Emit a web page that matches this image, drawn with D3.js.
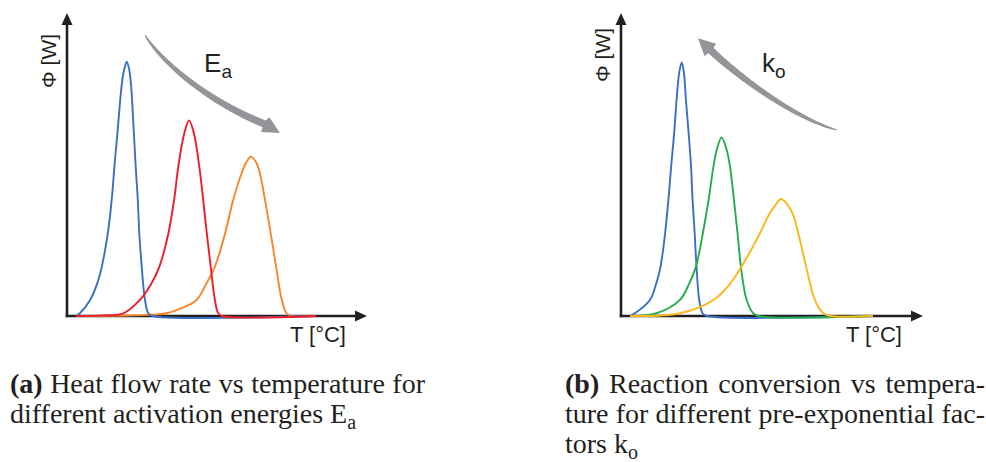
<!DOCTYPE html>
<html>
<head>
<meta charset="utf-8">
<script src="https://cdn.jsdelivr.net/npm/d3@7"></script>
<style>
  html, body { margin: 0; padding: 0; background: #fff; }
  svg { display: block; }
</style>
</head>
<body>
<svg id="fig" width="986" height="462"></svg>
<script>
// ---- Panel (a): heat flow Φ vs temperature T, one curve per activation energy ----
// each entry is [T, Φ] in relative units (0–100 along each axis)
const heatFlowLowEa = [[3,0],[4.3,0.9],[7.7,5.3],[10,10.5],[11.6,16.3],[13.6,27.3],[14.9,38.3],[15.8,49.3],[16.8,60.3],[18.3,76.8],[19.1,81.5],[19.9,83.9],[20.7,81.5],[21.3,76.8],[22.3,60.3],[22.9,49.3],[23.6,38.3],[24.1,27.3],[24.9,16.3],[26,5.3],[27.1,0.9],[28.5,0],[83,0]];
const heatFlowMidEa = [[3,0],[12,0.2],[18.8,0.9],[24.3,5.3],[28,10.5],[30.8,16.3],[33.8,27.3],[35.7,38.3],[37.1,49.3],[39.1,60.3],[40.7,64.5],[42.3,60.3],[44.1,49.3],[45.4,38.3],[46.6,27.3],[47.9,16.3],[49.3,5.3],[50.4,0.9],[51.7,0],[83,0]];
const heatFlowHighEa = [[3,0],[22,0.2],[33.2,0.9],[38,2.5],[43.2,5.3],[46.5,10.8],[49.3,16.3],[52.7,27.3],[55.4,38.3],[58.2,47.1],[59.6,50.4],[61.3,52.6],[63.2,50.4],[64.3,47.1],[66,38.3],[67.9,27.3],[69.7,16.3],[71.6,5.3],[73.2,0.9],[75,0],[83,0]];

// ---- Panel (b): Φ vs T, one curve per pre-exponential factor ----
const conversionHighK0 = [[3,0],[4.6,0.9],[9.6,5.3],[11.6,10.5],[13.1,16.3],[14.6,27.3],[15.7,38.3],[16.6,49.3],[17.6,60.3],[18.4,71.3],[19.3,80.5],[20.1,83.7],[20.8,80.5],[21.5,71.3],[22.4,60.3],[23.2,49.3],[23.7,38.3],[24.4,27.3],[25,16.3],[25.9,5.3],[27,0.9],[28.5,0],[83.4,0]];
const conversionMidK0 = [[3,0],[11.8,0.9],[19.5,5.3],[22.5,10.5],[24.8,16.3],[27.1,27.3],[29,38.3],[30.6,49.3],[31.7,54.8],[33.3,58.9],[35,54.8],[36.1,49.3],[37.4,38.3],[38.6,27.3],[39.7,16.3],[41.6,5.3],[43.8,0.9],[45.5,0],[83.4,0]];
const conversionLowK0 = [[3,0],[19.5,0.9],[30.6,5.3],[36,10.5],[39.9,16.3],[43.2,22],[46,27.3],[48.8,33.1],[51,36.4],[53,38.6],[55.4,36.4],[57.1,33.1],[58.7,27.3],[61.3,16.3],[64.2,5.3],[67,0.9],[69.5,0],[83.4,0]];

// ---- Axis titles, trend labels and captions ----
const yTitle = "Φ [W]";
const xTitle = "T [°C]";
const trendLabels = [["E", "a"], ["k", "o"]];
// "**…**" marks bold, "_" marks a subscript; true = justified line
const captionA = [
  [["**(a)**", "Heat", "flow", "rate", "vs", "temperature", "for"], true],
  [["different", "activation", "energies", "E_a"], false]
];
const captionB = [
  [["**(b)**", "Reaction", "conversion", "vs", "tempera-"], true],
  [["ture", "for", "different", "pre-exponential", "fac-"], true],
  [["tors", "k_o"], false]
];

// ---------------------------------------------------------------
const INK = "#231f20";
const ARROW_GREY = "#939598";
const SANS = "'Liberation Sans', Arial, sans-serif";
const SERIF = "'Liberation Serif', 'Times New Roman', serif";
const COLORS = { blue: "#3b6fc1", red: "#ec1f26", orange: "#f5862e", green: "#24ad4c", yellow: "#fbb719" };

const svg = d3.select("#fig");

const panels = [
  {
    x: d3.scaleLinear().domain([0, 100]).range([67, 367]),
    y: d3.scaleLinear().domain([0, 100]).range([316, 13]),
    series: [[heatFlowHighEa, COLORS.orange], [heatFlowLowEa, COLORS.blue], [heatFlowMidEa, COLORS.red]],
    yTitleY: 61,
    label: trendLabels[0], labelAt: [45.7, 80.5],
    // trend arrow: cubic Bézier (tail, two handles, head base) and tip, in data units
    arrow: [[26, 92.7], [31, 84.5], [46, 71.3], [65.7, 63.4]],
    arrowTip: [71, 60.4],
    caption: captionA, capX: 10, capW: 415
  },
  {
    x: d3.scaleLinear().domain([0, 100]).range([621, 923]),
    y: d3.scaleLinear().domain([0, 100]).range([316, 13]),
    series: [[conversionHighK0, COLORS.blue], [conversionMidK0, COLORS.green], [conversionLowK0, COLORS.yellow]],
    yTitleY: 55,
    label: trendLabels[1], labelAt: [46.7, 80.5],
    arrow: [[71.5, 61.4], [58.6, 64.7], [39.4, 78.5], [29.8, 87.6]],
    arrowTip: [25.5, 91.7],
    caption: captionB, capX: 565, capW: 420
  }
];

function drawAxes(g, x, y) {
  const x0 = x(0), y0 = y(0), xEnd = x(100), yEnd = y(100);
  const sw = 2.6, headL = 12, headHalf = 5.5;
  g.append("line")
    .attr("x1", x0).attr("y1", y0 + sw / 2).attr("x2", x0).attr("y2", yEnd + headL - 1)
    .attr("stroke", INK).attr("stroke-width", sw);
  g.append("line")
    .attr("x1", x0 - sw / 2).attr("y1", y0).attr("x2", xEnd - headL + 1).attr("y2", y0)
    .attr("stroke", INK).attr("stroke-width", sw);
  g.append("path")
    .attr("d", `M${x0},${yEnd} L${x0 - headHalf},${yEnd + headL} L${x0 + headHalf},${yEnd + headL}Z`)
    .attr("fill", INK);
  g.append("path")
    .attr("d", `M${xEnd},${y0} L${xEnd - headL},${y0 - headHalf} L${xEnd - headL},${y0 + headHalf}Z`)
    .attr("fill", INK);
}

// Curved arrow (cubic Bézier centreline) whose shaft widens from tail to head
function taperedArrow(g, P, tip, w0, w1, headLen, headW) {
  const bez = t => {
    const u = 1 - t;
    return [
      u*u*u*P[0][0] + 3*u*u*t*P[1][0] + 3*u*t*t*P[2][0] + t*t*t*P[3][0],
      u*u*u*P[0][1] + 3*u*u*t*P[1][1] + 3*u*t*t*P[2][1] + t*t*t*P[3][1]
    ];
  };
  const N = 100, left = [], right = [];
  for (let i = 0; i <= N; i++) {
    const t = i / N;
    const p = bez(t);
    const a = bez(Math.max(0, t - 0.005)), b = bez(Math.min(1, t + 0.005));
    let dx = b[0] - a[0], dy = b[1] - a[1];
    const n = Math.hypot(dx, dy) || 1; dx /= n; dy /= n;
    const hw = (w0 + (w1 - w0) * Math.pow(t, 0.6)) / 2;
    left.push([p[0] - dy * hw, p[1] + dx * hw]);
    right.push([p[0] + dy * hw, p[1] - dx * hw]);
  }
  const base = P[3];
  let dx = tip[0] - base[0], dy = tip[1] - base[1];
  const n = Math.hypot(dx, dy); dx /= n; dy /= n;
  const hb = [tip[0] - dx * headLen, tip[1] - dy * headLen];
  const c1 = [hb[0] - dy * headW / 2, hb[1] + dx * headW / 2];
  const c2 = [hb[0] + dy * headW / 2, hb[1] - dx * headW / 2];
  const poly = left.concat([c1, tip, c2], right.reverse());
  g.append("path")
    .attr("d", "M" + poly.map(p => p[0].toFixed(2) + "," + p[1].toFixed(2)).join("L") + "Z")
    .attr("fill", ARROW_GREY);
}

// One caption word: supports **bold** and a single "_" subscript
function addWord(g, word, y) {
  const t = g.append("text").attr("y", y)
    .attr("font-family", SERIF).attr("font-size", 28).attr("fill", INK);
  if (word.startsWith("**")) {
    t.append("tspan").attr("font-weight", "bold").text(word.replace(/\*\*/g, ""));
  } else if (word.includes("_")) {
    const [main, sub] = word.split("_");
    t.append("tspan").text(main);
    t.append("tspan").attr("font-size", 20).attr("dy", 6).text(sub);
  } else {
    t.text(word);
  }
  return t;
}

function drawCaption(g, lines, x0, width, y0, lineH) {
  lines.forEach(([words, justify], li) => {
    const y = y0 + li * lineH;
    const items = words.map(w => addWord(g, w, y));
    const widths = items.map(t => t.node().getComputedTextLength());
    const total = d3.sum(widths);
    const gap = justify && words.length > 1 ? (width - total) / (words.length - 1) : 7;
    let cx = x0;
    items.forEach((t, i) => { t.attr("x", cx); cx += widths[i] + gap; });
  });
}

panels.forEach(p => {
  const g = svg.append("g");
  drawAxes(g, p.x, p.y);

  const line = d3.line()
    .x(d => p.x(d[0]))
    .y(d => p.y(d[1]))
    .curve(d3.curveCatmullRom.alpha(0.5));

  g.selectAll("path.curve")
    .data(p.series)
    .join("path")
    .attr("class", "curve")
    .attr("d", d => line(d[0]))
    .attr("fill", "none")
    .attr("stroke", d => d[1])
    .attr("stroke-width", 1.9)
    .attr("stroke-linejoin", "round");

  // axis titles
  g.append("text")
    .attr("transform", `translate(${p.x(0) - 11},${p.yTitleY}) rotate(-90)`)
    .attr("text-anchor", "middle")
    .attr("font-family", SANS).attr("font-size", 21).attr("fill", INK)
    .text(yTitle);
  g.append("text")
    .attr("x", p.x(100) - 21).attr("y", 342)
    .attr("text-anchor", "end")
    .attr("font-family", SANS).attr("font-size", 22).attr("fill", INK)
    .text(xTitle);

  // trend arrow and its label
  const px = d => [p.x(d[0]), p.y(d[1])];
  taperedArrow(g, p.arrow.map(px), px(p.arrowTip), 0.8, 7.5, 17, 17);
  const lab = g.append("text")
    .attr("x", p.x(p.labelAt[0])).attr("y", p.y(p.labelAt[1]))
    .attr("font-family", SANS).attr("font-size", 26).attr("fill", INK);
  lab.append("tspan").text(p.label[0]);
  lab.append("tspan").attr("font-size", 19).attr("dy", 6).text(p.label[1]);

  drawCaption(g, p.caption, p.capX, p.capW, 393, 30);
});
</script>
</body>
</html>
